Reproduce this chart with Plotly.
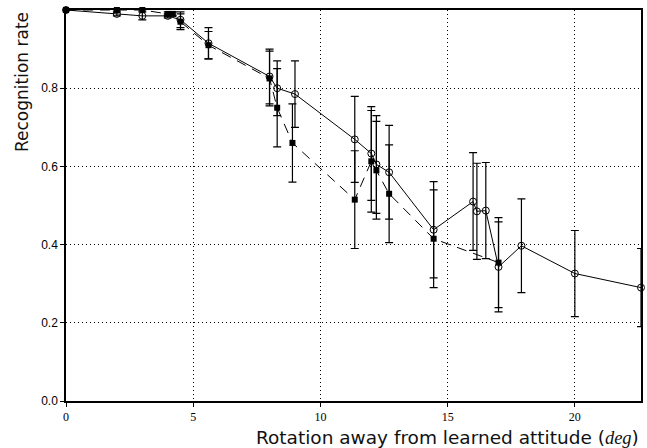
import plotly.graph_objects as go

# Open circles (solid line)
circ_x = [0, 2.0, 3.0, 4.0, 4.5, 5.6, 8.0, 8.3, 9.0, 11.35, 12.0, 12.2, 12.7, 14.45, 16.0, 16.15, 16.5, 17.0, 17.9, 20.0, 22.6]
circ_y = [1.0, 0.99, 0.985, 0.985, 0.975, 0.915, 0.83, 0.80, 0.785, 0.669, 0.633, 0.605, 0.585, 0.438, 0.51, 0.485, 0.487, 0.343, 0.397, 0.326, 0.29]
circ_e = [0, 0.005, 0.01, 0.005, 0.02, 0.04, 0.07, 0.07, 0.085, 0.11, 0.12, 0.125, 0.12, 0.123, 0.125, 0.123, 0.123, 0.115, 0.12, 0.11, 0.10]

# Filled squares (dashed line)
sq_x = [0, 2.0, 3.0, 4.0, 4.2, 4.5, 5.6, 8.0, 8.3, 8.9, 11.35, 12.0, 12.2, 12.7, 14.45, 17.0]
sq_y = [1.0, 1.0, 1.0, 0.99, 0.99, 0.97, 0.91, 0.825, 0.75, 0.66, 0.515, 0.613, 0.59, 0.53, 0.415, 0.354]
sq_e = [0, 0, 0, 0.005, 0.005, 0.02, 0.035, 0.07, 0.1, 0.1, 0.125, 0.13, 0.125, 0.125, 0.125, 0.115]

x_ticks = [0, 5, 10, 15, 20]
y_ticks = [0.0, 0.2, 0.4, 0.6, 0.8]
y_labels = ["0.0", "0.2", "0.4", "0.6", "0.8"]

fig = go.Figure()
fig.add_trace(go.Scatter(
    x=sq_x, y=sq_y, mode="lines+markers",
    line=dict(color="black", width=1, dash="10px,7px"),
    marker=dict(symbol="square", size=6, color="black"),
    error_y=dict(type="data", array=sq_e, color="black", thickness=1.2, width=4),
    cliponaxis=False, showlegend=False))
fig.add_trace(go.Scatter(
    x=circ_x, y=circ_y, mode="lines+markers",
    line=dict(color="black", width=1),
    marker=dict(symbol="circle-open", size=7, color="black", line=dict(width=1)),
    error_y=dict(type="data", array=circ_e, color="black", thickness=1.2, width=4),
    cliponaxis=False, showlegend=False))

fig.update_layout(
    width=647, height=448,
    margin=dict(l=66, r=4, t=10, b=47),
    paper_bgcolor="white", plot_bgcolor="white",
    xaxis=dict(range=[0, 22.6], tickvals=x_ticks, ticktext=[str(v) for v in x_ticks],
               showgrid=True, gridcolor="black", griddash="1px,3px", gridwidth=1,
               showline=True, linecolor="black", linewidth=1.5, mirror=True,
               ticks="outside", ticklen=4, tickcolor="black", zeroline=False,
               tickfont=dict(family="Liberation Serif", size=12, color="black")),
    yaxis=dict(range=[0, 1.0], tickvals=y_ticks, ticktext=y_labels,
               showgrid=True, gridcolor="black", griddash="1px,3px", gridwidth=1,
               showline=True, linecolor="black", linewidth=1.5, mirror=True,
               ticks="outside", ticklen=4, tickcolor="black", zeroline=False,
               tickfont=dict(family="Liberation Sans", size=12, color="black")),
    annotations=[
        dict(text='Rotation away from learned attitude (<span style="font-family:Liberation Serif"><i>deg</i></span>)',
             xref="paper", yref="paper", x=1.0, y=0, xanchor="right", yanchor="top",
             yshift=-24, showarrow=False,
             font=dict(family="DejaVu Sans", size=18.5, color="#111111")),
        dict(text="Recognition rate", xref="paper", yref="paper", x=0, y=1.0,
             xanchor="center", yanchor="top", xshift=-44, yshift=0, textangle=-90, showarrow=False,
             font=dict(family="DejaVu Sans", size=17, color="#111111")),
    ],
)

fig.write_html("out.html")
